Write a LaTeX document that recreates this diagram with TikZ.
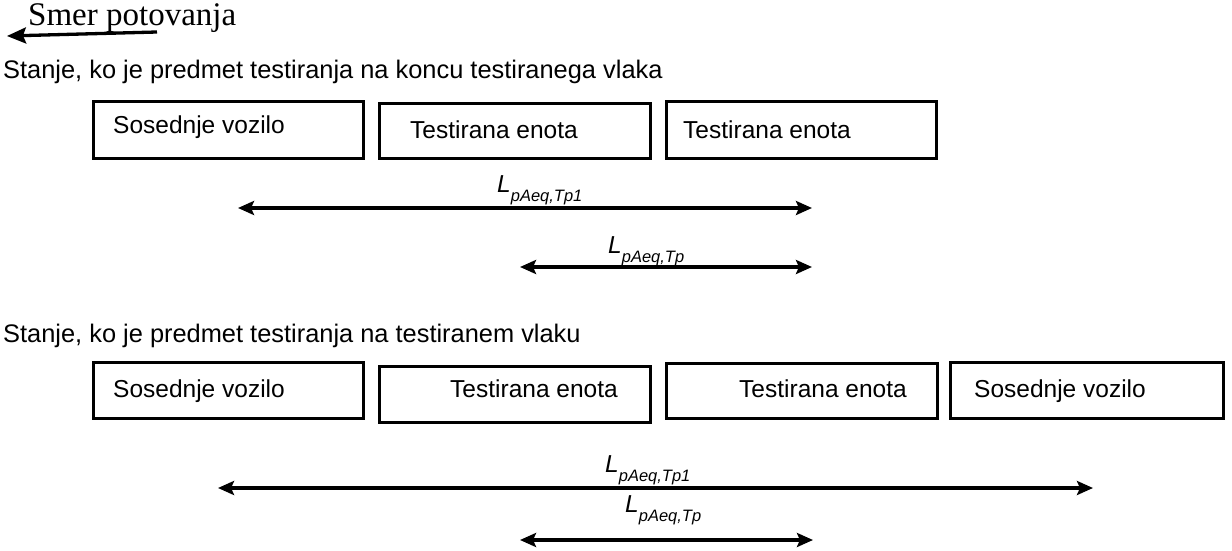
\documentclass[tikz,border=0pt]{standalone}
\usepackage{fontspec}
\setmainfont{Liberation Sans}
\newfontfamily\seriffont{Liberation Serif}
\usetikzlibrary{arrows.meta}
\begin{document}
\begin{tikzpicture}[x=1pt,y=-1pt,
 box/.style={draw, line width=2.6pt, inner sep=0pt},
 txt/.style={anchor=base west, inner sep=0pt, font=\fontsize{24.5}{28}\selectfont},
 head/.style={anchor=base west, inner sep=0pt, font=\fontsize{25.4}{29}\selectfont},
 dim/.style={line width=3.3pt, {Stealth[length=16pt,width=14pt,inset=3pt]}-{Stealth[length=16pt,width=14pt,inset=3pt]}},
 lab/.style={anchor=base west, inner sep=0pt}]
\newcommand{\Llab}[1]{\fontsize{24.5}{28}\selectfont\textit{L}\raisebox{-9pt}{\fontsize{16.5}{18}\selectfont\textit{#1}}}
\useasboundingbox (0,0) rectangle (1232,551);
% title
\node[anchor=base west, inner sep=0pt, font=\seriffont\fontsize{33}{36}\selectfont] (title) at (28,26) {Smer potovanja};
\coordinate (ts) at (157,32);
\coordinate (te) at (7,36);
\draw[line width=3.3pt, -{Stealth[length=19pt,width=16pt,inset=3pt]}] (ts) -- (te);
% headings
\node[head] (h1) at (3,78) {Stanje, ko je predmet testiranja na koncu testiranega vlaka};
\node[head] (h2) at (3,342) {Stanje, ko je predmet testiranja na testiranem vlaku};
% row 1 boxes
\node[box, minimum width=270pt, minimum height=57pt] (b11) at (228.5,130) {};
\node[box, minimum width=271pt, minimum height=55pt] (b12) at (515,131) {};
\node[box, minimum width=270pt, minimum height=57pt] (b13) at (801.5,130) {};
\node[txt] (t11) at (113,133) {Sosednje vozilo};
\node[txt] (t12) at (410,138) {Testirana enota};
\node[txt] (t13) at (683,138) {Testirana enota};
% row 2 boxes
\node[box, minimum width=270pt, minimum height=56pt] (b21) at (228.5,390.5) {};
\node[box, minimum width=271pt, minimum height=56pt] (b22) at (515,394.5) {};
\node[box, minimum width=271pt, minimum height=55pt] (b23) at (802,391) {};
\node[box, minimum width=273pt, minimum height=56pt] (b24) at (1087,390.5) {};
\node[txt] (t21) at (113,397) {Sosednje vozilo};
\node[txt] (t22) at (450,397) {Testirana enota};
\node[txt] (t23) at (739,397) {Testirana enota};
\node[txt] (t24) at (974,397) {Sosednje vozilo};
% dimension arrows
\coordinate (a1l) at (238,208); \coordinate (a1r) at (812,208);
\coordinate (a2l) at (520,267); \coordinate (a2r) at (812,267);
\coordinate (a3l) at (218,488); \coordinate (a3r) at (1093,488);
\coordinate (a4l) at (520,540); \coordinate (a4r) at (813,540);
\draw[dim] (a1l) -- (a1r);
\draw[dim] (a2l) -- (a2r);
\draw[dim] (a3l) -- (a3r);
\draw[dim] (a4l) -- (a4r);
\node[lab] (l1) at (497,192) {\Llab{pAeq,Tp1}};
\node[lab] (l2) at (608,253) {\Llab{pAeq,Tp}};
\node[lab] (l3) at (605,472) {\Llab{pAeq,Tp1}};
\node[lab] (l4) at (625,512) {\Llab{pAeq,Tp}};
\end{tikzpicture}
\end{document}
